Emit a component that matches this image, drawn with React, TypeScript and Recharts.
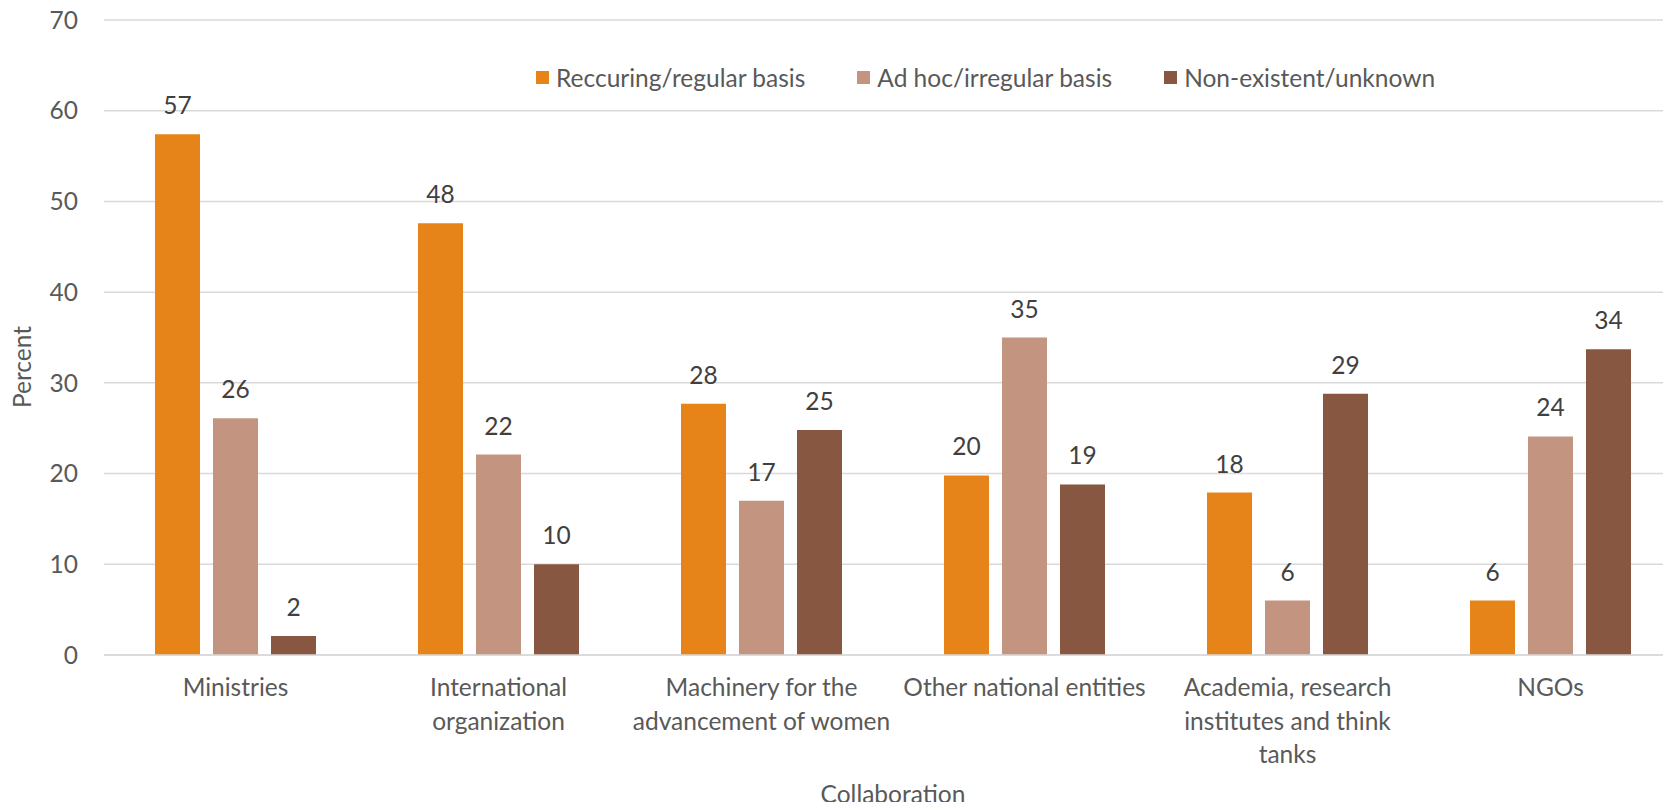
import { BarChart, Bar, XAxis, YAxis, CartesianGrid, Legend, LabelList } from 'recharts';

// Collaboration categories (tick labels, with explicit line breaks)
const categories = [
  'Ministries',
  'International\norganization',
  'Machinery for the\nadvancement of women',
  'Other national entities',
  'Academia, research\ninstitutes and think\ntanks',
  'NGOs',
];

const recurring = [57.4, 47.6, 27.7, 19.8, 17.9, 6.0];
const adHoc = [26.1, 22.1, 17.0, 35.0, 6.0, 24.1];
const nonExistent = [2.1, 10.0, 24.8, 18.8, 28.8, 33.7];

const yTicks = [0, 10, 20, 30, 40, 50, 60, 70];

const series = [
  { key: 'recurring', name: 'Reccuring/regular basis', color: '#E6841A' },
  { key: 'adHoc', name: 'Ad hoc/irregular basis', color: '#C39580' },
  { key: 'nonExistent', name: 'Non-existent/unknown', color: '#875741' },
];

const data = categories.map((name, i) => ({
  name,
  recurring: recurring[i],
  adHoc: adHoc[i],
  nonExistent: nonExistent[i],
}));

const FONT = 'Lato, "Open Sans", sans-serif';
const TEXT = '#595959';
const SIZE = 24.5;

const CategoryTick = ({ x, y, payload }: any) => {
  const lines = String(payload.value).split('\n');
  return (
    <text x={x} y={y} textAnchor="middle" fill={TEXT} fontSize={SIZE} fontFamily={FONT}>
      {lines.map((line, i) => (
        <tspan key={i} x={x} dy={i === 0 ? 33 : 33.5}>
          {line}
        </tspan>
      ))}
    </text>
  );
};

const LegendContent = () => (
  <div style={{ display: 'flex', alignItems: 'center', fontFamily: FONT, fontSize: SIZE, color: TEXT }}>
    {series.map((s) => (
      <div key={s.key} style={{ display: 'flex', alignItems: 'center', marginRight: 52 }}>
        <span style={{ width: 13, height: 13, background: s.color, display: 'inline-block', marginRight: 7 }} />
        <span>{s.name}</span>
      </div>
    ))}
  </div>
);

const App = () => {
  return (
    <div style={{ margin: -8, width: 1671, height: 810, overflow: 'hidden', background: '#fff', position: 'relative' }}>
      <BarChart
        width={1690}
        height={810}
        data={data}
        margin={{ top: 20, right: 8, left: 0, bottom: 0 }}
        barSize={45}
        barGap={13}
      >
        <CartesianGrid vertical={false} stroke="#D9D9D9" strokeWidth={1.5} />
        <XAxis
          dataKey="name"
          height={155}
          tick={<CategoryTick />}
          tickLine={false}
          axisLine={{ stroke: '#D9D9D9', strokeWidth: 1.5 }}
          interval={0}
          label={{
            content: () => (
              <text x={893} y={803} textAnchor="middle" fill={TEXT} fontSize={SIZE} fontFamily={FONT}>
                Collaboration
              </text>
            ),
          }}
        />
        <YAxis
          width={104}
          domain={[0, 70]}
          ticks={yTicks}
          interval={0}
          tickLine={false}
          axisLine={false}
          tickSize={0}
          tickMargin={26}
          tick={{ fill: TEXT, fontSize: SIZE, fontFamily: FONT }}
          label={{
            content: () => (
              <text
                x={31}
                y={367}
                transform="rotate(-90 31 367)"
                textAnchor="middle"
                fill={TEXT}
                fontSize={SIZE}
                fontFamily={FONT}
              >
                Percent
              </text>
            ),
          }}
        />
        <Legend
          verticalAlign="middle"
          align="center"
          layout="horizontal"
          content={<LegendContent />}
          wrapperStyle={{ position: 'absolute', top: 63, left: 536, width: 'auto' }}
        />
        {series.map((s) => (
          <Bar key={s.key} dataKey={s.key} name={s.name} fill={s.color} isAnimationActive={false}>
            <LabelList
              dataKey={s.key}
              position="top"
              offset={20}
              formatter={(v: any) => Math.round(Number(v))}
              fill="#404040"
              fontSize={SIZE}
              fontFamily={FONT}
            />
          </Bar>
        ))}
      </BarChart>
    </div>
  );
};

export default App;
